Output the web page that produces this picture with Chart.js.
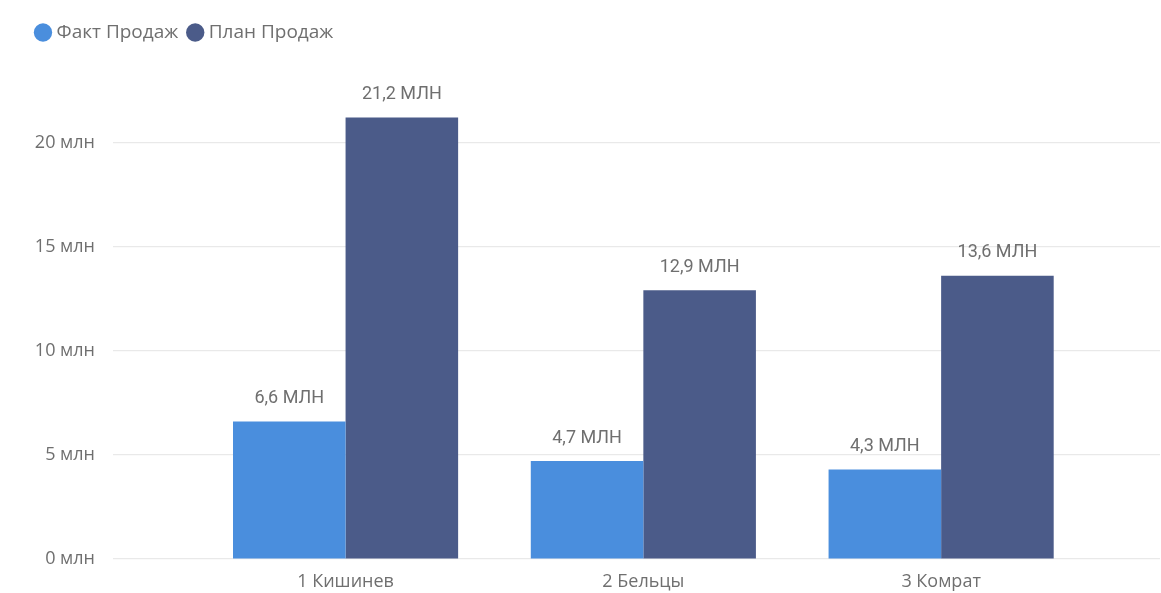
<!DOCTYPE html>
<html>
<head>
    <meta http-equiv="Content-Type" content="text/html; charset=UTF-8">
    <title>Факт и План Продаж</title>
    <script src="https://cdn.jsdelivr.net/npm/chart.js@4.4.1/dist/chart.umd.min.js"></script>
    <style>
        body { margin: 0; background: #fff; }
        #wrap { width: 1161px; height: 593px; position: relative; }
    </style>
</head>
<body>
<div id="wrap">
    <canvas id="salesChart"></canvas>
</div>
<script>
    // data (millions)
    var categories = ["1 Кишинев", "2 Бельцы", "3 Комрат"];
    var factSales = [6.6, 4.7, 4.3];
    var planSales = [21.2, 12.9, 13.6];
    var yTicks = [0, 5, 10, 15, 20];
    var seriesNames = ["Факт Продаж", "План Продаж"];

    var textColor = "#6f6f6f";
    var fontFamily = "'Open Sans', sans-serif";

    function toPoints(values) {
        return values.map(function (v, i) { return {x: i, y: v}; });
    }

    function fmt(v) {
        return v.toFixed(1).replace(".", ",") + " МЛН";
    }

    // value labels above bars
    var barLabels = {
        id: "barLabels",
        afterDatasetsDraw: function (chart) {
            var ctx = chart.ctx;
            ctx.save();
            ctx.font = "18px 'Roboto', sans-serif";
            ctx.fillStyle = textColor;
            ctx.textAlign = "center";
            ctx.textBaseline = "middle";
            chart.data.datasets.forEach(function (ds, di) {
                chart.getDatasetMeta(di).data.forEach(function (bar, i) {
                    ctx.fillText(fmt(ds.data[i].y), bar.x, bar.y - 23);
                });
            });
            ctx.restore();
        }
    };

    // push plot area down below the legend
    var legendGap = {
        id: "legendGap",
        beforeInit: function (chart) {
            var fit = chart.legend.fit;
            chart.legend.fit = function () {
                fit.call(this);
                this.height = 70;
            };
        }
    };

    var ctx = document.getElementById("salesChart").getContext("2d");
    var chart = new Chart(ctx, {
        type: "bar",
        data: {
            datasets: [{
                label: seriesNames[0],
                data: toPoints(factSales),
                backgroundColor: "#4a8edd"
            }, {
                label: seriesNames[1],
                data: toPoints(planSales),
                backgroundColor: "#4b5b89"
            }]
        },
        plugins: [barLabels, legendGap],
        options: {
            responsive: true,
            maintainAspectRatio: false,
            animation: false,
            layout: {padding: {left: 26, top: 10, right: 1, bottom: 0}},
            datasets: {bar: {categoryPercentage: 0.756, barPercentage: 1}},
            plugins: {
                tooltip: {enabled: false},
                legend: {
                    position: "top",
                    align: "start",
                    labels: {
                        usePointStyle: true,
                        pointStyle: "circle",
                        boxWidth: 8,
                        boxHeight: 13,
                        padding: 13,
                        color: textColor,
                        font: {family: fontFamily, size: 19}
                    }
                }
            },
            scales: {
                x: {
                    type: "linear",
                    offset: false,
                    min: -0.781,
                    max: 2.735,
                    grid: {display: false, drawTicks: false},
                    border: {display: false},
                    afterBuildTicks: function (axis) {
                        axis.ticks = categories.map(function (c, i) { return {value: i}; });
                    },
                    afterFit: function (axis) { axis.height = 34; },
                    ticks: {
                        padding: 12,
                        color: textColor,
                        font: {family: fontFamily, size: 18},
                        callback: function (v) { return categories[v]; }
                    }
                },
                y: {
                    min: 0,
                    max: 23,
                    afterBuildTicks: function (axis) {
                        axis.ticks = yTicks.map(function (v) { return {value: v}; });
                    },
                    afterFit: function (axis) { axis.width = 87; },
                    grid: {color: "#e9e9e9", lineWidth: 1.2, drawTicks: false},
                    border: {display: false},
                    ticks: {
                        padding: 18,
                        color: textColor,
                        font: {family: fontFamily, size: 18},
                        callback: function (v) { return v + " млн"; }
                    }
                }
            }
        }
    });
</script>
</body>
</html>
